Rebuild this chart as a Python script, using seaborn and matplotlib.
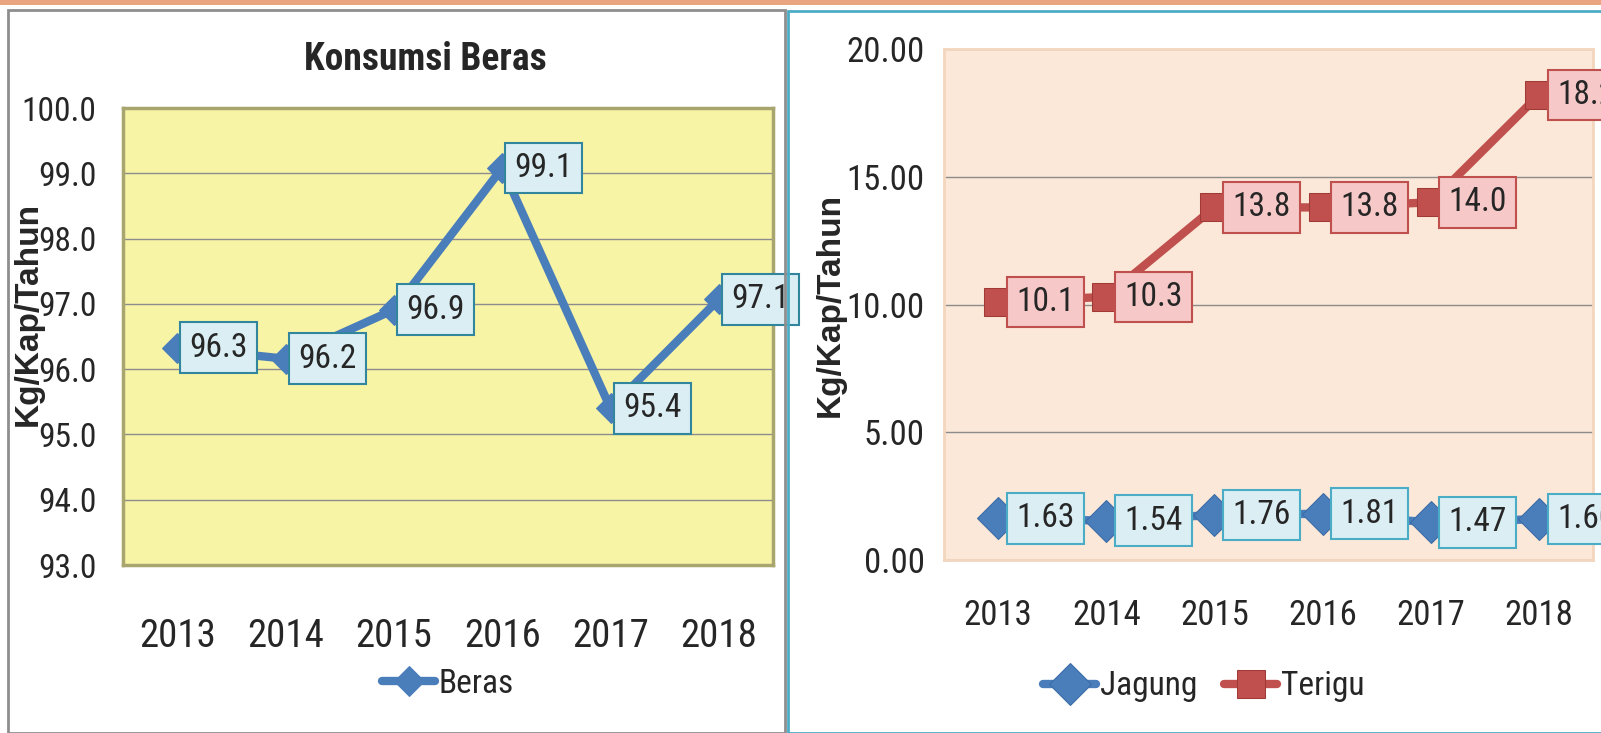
import pandas as pd
import matplotlib.pyplot as plt
import seaborn as sns
from matplotlib.patches import Rectangle

# data
years = ['2013', '2014', '2015', '2016', '2017', '2018']
beras = [96.33, 96.16, 96.91, 99.08, 95.40, 97.07]
jagung = [1.63, 1.54, 1.76, 1.81, 1.47, 1.60]
terigu = [10.1, 10.3, 13.8, 13.8, 14.0, 18.2]

sns.set_style('white')
plt.rcParams['font.family'] = ['Roboto Condensed', 'Liberation Sans Narrow', 'Roboto', 'DejaVu Sans']

BLUE = '#4A7EBB'
RED = '#C0504D'
W, H = 1601, 733

fig = plt.figure(figsize=(W / 100, H / 100), dpi=100)

# panel frames and top band
fig.patches.append(Rectangle((0, 1 - 5 / H), 1, 5 / H, transform=fig.transFigure,
                             facecolor='#E9A57F', edgecolor='none'))
fig.patches.append(Rectangle((8 / W, 0), 777 / W, (H - 10) / H, transform=fig.transFigure,
                             facecolor='none', edgecolor='#8E8E8E', lw=2))
fig.patches.append(Rectangle((788 / W, 0), 820 / W, (H - 11) / H, transform=fig.transFigure,
                             facecolor='none', edgecolor='#4BACC6', lw=2))


def add_labels(ax, vals, fmt, face, edge, off=32):
    for i, v in enumerate(vals):
        ax.annotate(fmt.format(v), (i, v), xytext=(off, 0), textcoords='offset points',
                    ha='center', va='center', fontsize=24, zorder=5,
                    bbox=dict(boxstyle='square,pad=0.28', facecolor=face, edgecolor=edge, lw=1.5),
                    annotation_clip=False)


# ---- left panel: Beras ----
ax1 = fig.add_axes([123 / W, 168 / H, 650 / W, 457 / H])
df1 = pd.DataFrame({'Tahun': years, 'Beras': beras})
sns.lineplot(data=df1, x='Tahun', y='Beras', ax=ax1, color=BLUE, lw=6,
             marker='D', markersize=15, markeredgecolor=BLUE, label='Beras', zorder=3)
ax1.set_facecolor('#F8F4A6')
ax1.set_xlim(-0.5, 5.5)
ax1.set_ylim(93, 100)
ax1.set_yticks(range(93, 101))
ax1.set_yticklabels([f'{t:.1f}' for t in range(93, 101)])
ax1.yaxis.grid(True, color='#8C8C8C', lw=1)
ax1.tick_params(axis='y', length=0, pad=19, labelsize=24)
ax1.tick_params(axis='x', length=0, pad=38, labelsize=28)
for s in ax1.spines.values():
    s.set_color('#A8A56E')
    s.set_linewidth(2.5)
ax1.set_xlabel('')
ax1.set_ylabel('Kg/Kap/Tahun', fontsize=24, fontweight='bold', family='Liberation Sans')
ax1.yaxis.set_label_coords(-0.122, 0.55)
add_labels(ax1, beras, '{:.1f}', '#DAEEF3', '#31859C', off=30)
ax1.legend(loc='center', bbox_to_anchor=(0.5, -0.26), frameon=False, fontsize=24,
           handlelength=1.6, handletextpad=0.1)
fig.text(425 / W, 1 - 60 / H, 'Konsumsi Beras', ha='center', va='center',
         fontsize=27, fontweight='bold')

# ---- right panel: Jagung & Terigu ----
ax2 = fig.add_axes([944 / W, 173 / H, 649 / W, 511 / H])
df2 = pd.DataFrame({'Tahun': years, 'Jagung': jagung, 'Terigu': terigu})
sns.lineplot(data=df2, x='Tahun', y='Jagung', ax=ax2, color=BLUE, lw=6,
             marker='D', markersize=21, markeredgecolor='#3A6BA5', label='Jagung', zorder=3)
sns.lineplot(data=df2, x='Tahun', y='Terigu', ax=ax2, color=RED, lw=6,
             marker='s', markersize=20, markeredgecolor='#A03A37', label='Terigu', zorder=3)
ax2.set_facecolor('#FBE8D8')
ax2.set_xlim(-0.5, 5.5)
ax2.set_ylim(0, 20)
ax2.set_yticks([0, 5, 10, 15, 20])
ax2.set_yticklabels([f'{t:.2f}' for t in [0, 5, 10, 15, 20]])
ax2.yaxis.grid(True, color='#8C8C8C', lw=1)
ax2.tick_params(axis='y', length=0, pad=14, labelsize=25)
ax2.tick_params(axis='x', length=0, pad=28, labelsize=25)
for s in ax2.spines.values():
    s.set_color('#F3D6BE')
    s.set_linewidth(2)
ax2.set_xlabel('')
ax2.set_ylabel('Kg/Kap/Tahun', fontsize=24, fontweight='bold', family='Liberation Sans')
ax2.yaxis.set_label_coords(-0.151, 0.5)
add_labels(ax2, jagung, '{:.2f}', '#DAEEF3', '#4BACC6', off=34)
add_labels(ax2, terigu, '{:.1f}', '#F6C9C8', '#C0504D', off=34)
ax2.legend(loc='center', bbox_to_anchor=(0.4, -0.247), frameon=False, fontsize=24, ncol=2,
           handlelength=1.6, handletextpad=0.1, columnspacing=0.8)

fig.savefig('out.png', dpi=100)
